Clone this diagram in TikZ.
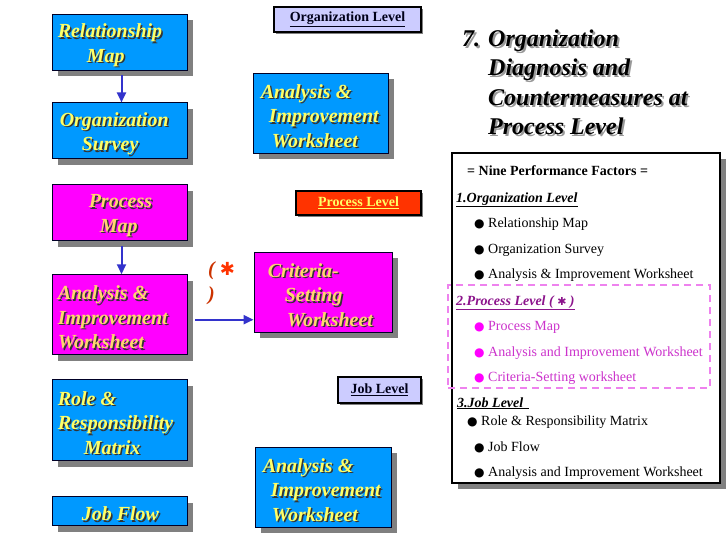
\documentclass[tikz,border=0pt]{standalone}
\usepackage{fontspec}
\setmainfont{Liberation Serif}[BoldItalicFont={Liberation Serif Bold Italic},ItalicFont={Liberation Serif Italic}]
\newfontfamily\symfont{DejaVu Sans}
\usetikzlibrary{arrows.meta,positioning,shadows}
\definecolor{OSblue}{RGB}{0,153,255}
\definecolor{OSpink}{RGB}{255,0,255}
\definecolor{OSyellow}{RGB}{255,255,102}
\definecolor{OSgold}{RGB}{255,214,110}
\definecolor{OSlav}{RGB}{204,204,255}
\definecolor{OSorange}{RGB}{255,51,0}
\definecolor{OSarrow}{RGB}{51,51,204}
\definecolor{OSshadow}{RGB}{128,128,128}
\definecolor{OSviolet}{RGB}{238,130,238}
\definecolor{OSmag}{RGB}{204,51,204}
\definecolor{OSplum}{RGB}{140,20,140}
\definecolor{OSrust}{RGB}{204,51,0}
\tikzset{
  sbox/.style={draw=black!85!blue,line width=0.9pt,minimum width=135pt,inner sep=0pt,
               drop shadow={shadow xshift=6pt,shadow yshift=-6pt,fill=OSshadow,opacity=1}},
  bluebox/.style={sbox,fill=OSblue},
  pinkbox/.style={sbox,fill=OSpink},
  lvltag/.style={draw=black,line width=1.4pt,inner sep=0pt,text=black!90!blue,
                 font=\fontsize{14}{16}\selectfont\bfseries,
                 drop shadow={shadow xshift=2pt,shadow yshift=-2pt,fill=OSshadow,opacity=1}},
  btxt/.style={anchor=west,align=left,inner sep=0pt,font=\fontsize{20}{24.5}\selectfont\bfseries\itshape},
  ttl/.style={anchor=north west,align=left,inner sep=0pt,font=\fontsize{24}{29.5}\selectfont\bfseries\itshape},
  fl/.style={-{Triangle[length=10pt,width=9pt]},line width=2pt,draw=OSarrow},
  fact/.style={anchor=base west,inner sep=0pt,font=\fontsize{14}{16}\selectfont},
  factpanel/.style={draw=black,line width=1.6pt,fill=white,inner sep=0pt,
                    drop shadow={shadow xshift=6pt,shadow yshift=-6pt,fill=OSshadow,opacity=1}}
}
% yellow text with a dark shadow on a box
\newcommand{\boxlabel}[3][OSyellow]{%
  \node[btxt,text=black!80] (#2-sh) at ([xshift=7.5pt,yshift=-4.5pt]#2.west) {#3};
  \node[btxt,text=#1] (#2-tx) at ([xshift=6pt,yshift=-3pt]#2.west) {#3};}
\newcommand{\bul}[1]{{\color{#1}\symfont\fontsize{12}{14}\selectfont ●}\ }

\begin{document}
\begin{tikzpicture}[x=1pt,y=-1pt]
  \fill[white] (0,0) rectangle (728,546);
  % left column
  \node[bluebox,minimum height=56pt] (relmap) at (119.5,42) {};
  \node[bluebox,minimum height=56pt,below=32pt of relmap] (orgsurv) {};
  \node[pinkbox,minimum height=56pt,below=25pt of orgsurv] (procmap) {};
  \node[pinkbox,minimum height=80pt,below=33pt of procmap] (procaiw) {};
  \node[bluebox,minimum height=81pt,below=24pt of procaiw] (rolemat) {};
  \node[bluebox,minimum height=29pt,below=35pt of rolemat] (jobflow) {};
  % middle column
  \node[bluebox,minimum height=80pt] (orgaiw) at (320.5,113) {};
  \node[pinkbox,minimum width=138pt,minimum height=80pt] (critsw) at (323,292) {};
  \node[bluebox,minimum width=136pt,minimum height=80pt] (jobaiw) at (323,487) {};
  \node[lvltag,fill=OSlav,minimum width=147pt,minimum height=25pt] (orglvl) at (347.5,19.5) {\underline{Organization Level}};
  \node[lvltag,fill=OSorange,text=OSyellow,minimum width=125pt,minimum height=24pt] (prclvl) at (358.5,203) {\underline{Process Level}};
  \node[lvltag,fill=OSlav,minimum width=83pt,minimum height=26pt] (joblvl) at (379.5,390) {\underline{Job Level}};
  % box texts
  \boxlabel{relmap}{Relationship\\\hspace*{29pt}Map}
  \boxlabel{orgsurv}{\hspace*{2pt}Organization\\\hspace*{24pt}Survey}
  \boxlabel[OSgold]{procmap}{\hspace*{31pt}Process\\\hspace*{42pt}Map}
  \boxlabel[OSgold]{procaiw}{Analysis \&\\Improvement\\Worksheet}
  \boxlabel{rolemat}{Role \&\\Responsibility\\\hspace*{26pt}Matrix}
  \boxlabel{jobflow}{\hspace*{24pt}Job Flow}
  \boxlabel{orgaiw}{\hspace*{2pt}Analysis \&\\\hspace*{10pt}Improvement\\\hspace*{13pt}Worksheet}
  \boxlabel[OSgold]{critsw}{\hspace*{8pt}Criteria-\\\hspace*{25pt}Setting\\\hspace*{27pt}Worksheet}
  \boxlabel{jobaiw}{\hspace*{2pt}Analysis \&\\\hspace*{10pt}Improvement\\\hspace*{11pt}Worksheet}
  % arrows
  \draw[fl] ([xshift=2pt,yshift=-5pt]relmap.south) -- ([xshift=2pt]orgsurv.north);
  \draw[fl] ([xshift=2pt,yshift=-5pt]procmap.south) -- ([xshift=2pt]procaiw.north);
  \coordinate (crit-in) at ([xshift=8pt,yshift=-5pt]procaiw.east);
  \draw[fl] (crit-in) -- (crit-in -| critsw.west);
  \node[btxt,text=OSrust] (star) at (208,283) {( {\color{OSorange}\symfont\fontsize{18}{20}\selectfont ✱}\\)};
  % title
  \node[ttl,text=black!40] (title-sh) at (464,31.5) {7. Organization\\\phantom{7. }Diagnosis and\\\phantom{7. }Countermeasures at\\\phantom{7. }Process Level};
  \node[ttl] (title) at (462,29.5) {7. Organization\\\phantom{7. }Diagnosis and\\\phantom{7. }Countermeasures at\\\phantom{7. }Process Level};
  % nine performance factors
  \node[factpanel,minimum width=268pt,minimum height=330pt] (factors) at (586,318) {};
  \node[draw=OSviolet,line width=1.5pt,dash pattern=on 7pt off 5pt,minimum width=262pt,minimum height=103pt] (procgrp) at (579,336.5) {};
  \node[fact,font=\fontsize{14}{16}\selectfont\bfseries] (f0) at (467,175) {= Nine Performance Factors =};
  \node[fact,font=\fontsize{14}{16}\selectfont\bfseries\itshape] (f1) at (456,202) {\underline{1.Organization Level}};
  \node[fact] (f11) at (474,227) {\bul{black}Relationship Map};
  \node[fact] (f12) at (474,253) {\bul{black}Organization Survey};
  \node[fact] (f13) at (474,278) {\bul{black}Analysis \& Improvement Worksheet};
  \node[fact,text=OSplum,font=\fontsize{14}{16}\selectfont\bfseries\itshape] (f2) at (456,305) {\underline{2.Process Level ( {\symfont\fontsize{11}{12}\selectfont ✱} )}};
  \node[fact,text=OSmag] (f21) at (474,330) {\bul{OSpink}Process Map};
  \node[fact,text=OSmag] (f22) at (474,356) {\bul{OSpink}Analysis and Improvement Worksheet};
  \node[fact,text=OSmag] (f23) at (474,381) {\bul{OSpink}Criteria-Setting worksheet};
  \node[fact,font=\fontsize{14}{16}\selectfont\bfseries\itshape] (f3) at (457,407) {\underline{3.Job Level\hspace*{6pt}}};
  \node[fact] (f31) at (467,425) {\bul{black}Role \& Responsibility Matrix};
  \node[fact] (f32) at (474,451) {\bul{black}Job Flow};
  \node[fact] (f33) at (474,476) {\bul{black}Analysis and Improvement Worksheet};
\end{tikzpicture}
\end{document}
